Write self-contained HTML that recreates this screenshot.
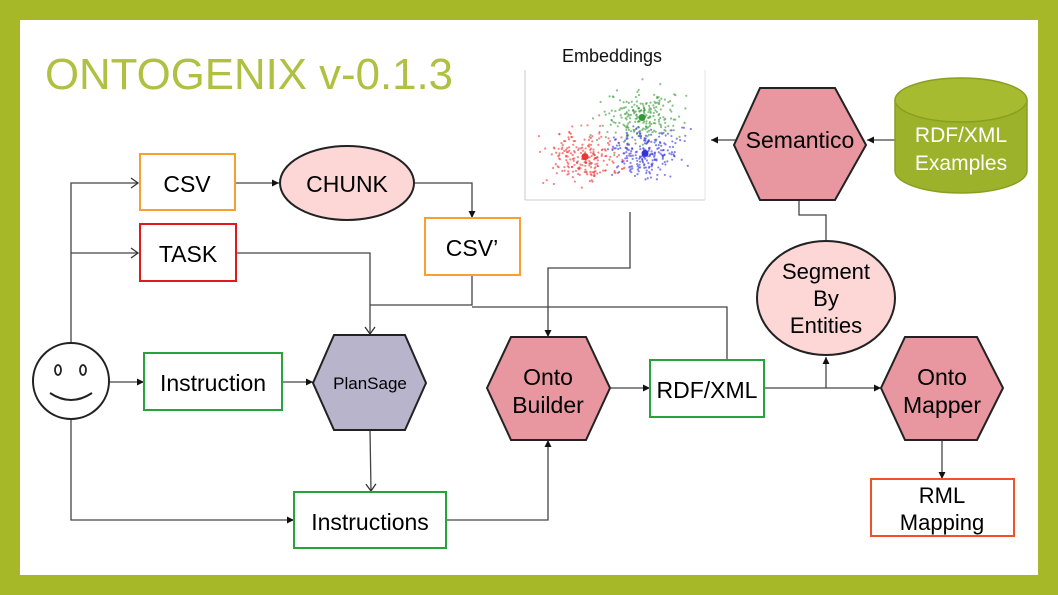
<!DOCTYPE html>
<html><head><meta charset="utf-8"><style>
html,body{margin:0;padding:0;background:#a6b828;}
svg{display:block;}
text{font-family:"Liberation Sans",sans-serif;}
</style></head><body>
<svg id="s" width="1058" height="595" viewBox="0 0 1058 595" xmlns="http://www.w3.org/2000/svg">
<defs>
<marker id="a" markerWidth="8" markerHeight="8" refX="7" refY="4" orient="auto" markerUnits="userSpaceOnUse"><path d="M0,0.5 L7,4 L0,7.5 z" fill="#111"/></marker>
<marker id="o" markerWidth="10" markerHeight="12" refX="8" refY="6" orient="auto" markerUnits="userSpaceOnUse"><path d="M1,1 L8,6 L1,11" fill="none" stroke="#333" stroke-width="1.3"/></marker>
</defs>
<rect x="0" y="0" width="1058" height="595" fill="#a6b828"/>
<rect x="20" y="20" width="1018" height="555" fill="#fff"/>
<text x="45" y="89" font-size="44" fill="#b0c040" textLength="408" lengthAdjust="spacingAndGlyphs">ONTOGENIX v-0.1.3</text>

<text x="612" y="62" font-size="18" text-anchor="middle" fill="#111">Embeddings</text>
<g id="plot">
<line x1="525" y1="70" x2="525" y2="200" stroke="#bbb" stroke-width="0.8"/>
<line x1="525" y1="200" x2="705" y2="200" stroke="#bbb" stroke-width="0.8"/>
<line x1="705" y1="70" x2="705" y2="200" stroke="#ddd" stroke-width="0.8"/>
</g>

<g fill="none" stroke="#444" stroke-width="1.3">
<polyline points="71,343 71,183 138,183" marker-end="url(#o)"/>
<polyline points="71,253 138,253" marker-end="url(#o)"/>
<polyline points="109,382 144,382" marker-end="url(#a)"/>
<polyline points="282,382 313,382" marker-end="url(#a)"/>
<polyline points="71,420 71,520 294,520" marker-end="url(#a)"/>
<polyline points="235,183 279,183" marker-end="url(#a)"/>
<polyline points="415,183 472,183 472,218" marker-end="url(#a)"/>
<polyline points="236,253 370,253 370,334" marker-end="url(#o)"/>
<polyline points="472,275 472,305 370,305"/>
<polyline points="472,307 727,307 727,360"/>
<polyline points="370,430 371,491" marker-end="url(#o)"/>
<polyline points="446,520 548,520 548,440" marker-end="url(#a)"/>
<polyline points="630,212 630,268 548,268 548,337" marker-end="url(#a)"/>
<polyline points="610,388 650,388" marker-end="url(#a)"/>
<polyline points="764,388 881,388" marker-end="url(#a)"/>
<polyline points="826,388 826,357" marker-end="url(#a)"/>
<polyline points="826,240 826,215 799,215 799,189" marker-end="url(#a)"/>
<polyline points="746,140 711,140" marker-end="url(#a)"/>
<polyline points="895,140 867,140" marker-end="url(#a)"/>
<polyline points="942,440 942,479" marker-end="url(#a)"/>
</g>

<rect x="140" y="154" width="95" height="56" fill="#fff" stroke="#f5a030" stroke-width="2"/>
<text x="187" y="192" font-size="23" text-anchor="middle">CSV</text>
<rect x="140" y="224" width="96" height="57" fill="#fff" stroke="#e0191b" stroke-width="2"/>
<text x="188" y="262" font-size="23" text-anchor="middle">TASK</text>
<rect x="425" y="218" width="95" height="57" fill="#fff" stroke="#f5a030" stroke-width="2"/>
<text x="472" y="256" font-size="23" text-anchor="middle">CSV’</text>
<rect x="144" y="353" width="138" height="57" fill="#fff" stroke="#27a33a" stroke-width="2"/>
<text x="213" y="391" font-size="23" text-anchor="middle">Instruction</text>
<rect x="294" y="492" width="152" height="56" fill="#fff" stroke="#27a33a" stroke-width="2"/>
<text x="370" y="530" font-size="23" text-anchor="middle">Instructions</text>
<rect x="650" y="360" width="114" height="57" fill="#fff" stroke="#27a33a" stroke-width="2"/>
<text x="707" y="398" font-size="23" text-anchor="middle">RDF/XML</text>
<rect x="871" y="479" width="143" height="57" fill="#fff" stroke="#f0502a" stroke-width="2"/>
<text x="942" y="503" font-size="22" text-anchor="middle">RML</text>
<text x="942" y="530" font-size="22" text-anchor="middle">Mapping</text>

<ellipse cx="347" cy="183" rx="67" ry="37" fill="#fdd6d6" stroke="#222" stroke-width="2"/>
<text x="347" y="192" font-size="23" text-anchor="middle">CHUNK</text>
<ellipse cx="826" cy="298" rx="69" ry="57" fill="#fdd6d6" stroke="#222" stroke-width="2"/>
<text x="826" y="279" font-size="22" text-anchor="middle">Segment</text>
<text x="826" y="306" font-size="22" text-anchor="middle">By</text>
<text x="826" y="333" font-size="22" text-anchor="middle">Entities</text>

<circle cx="71" cy="381" r="38" fill="#fff" stroke="#222" stroke-width="2"/>
<ellipse cx="58" cy="370" rx="3" ry="5" fill="none" stroke="#222" stroke-width="1.8"/>
<ellipse cx="83" cy="370" rx="3" ry="5" fill="none" stroke="#222" stroke-width="1.8"/>
<path d="M50,393 Q71,407 92,393" fill="none" stroke="#222" stroke-width="2"/>

<polygon points="313,383 334,335 405,335 426,383 405,430 334,430" fill="#b7b4cc" stroke="#222" stroke-width="2"/>
<text x="370" y="389" font-size="17" text-anchor="middle">PlanSage</text>
<polygon points="487,388 511,337 586,337 610,388 586,440 511,440" fill="#e8969f" stroke="#222" stroke-width="2"/>
<text x="548" y="385" font-size="23" text-anchor="middle">Onto</text>
<text x="548" y="413" font-size="23" text-anchor="middle">Builder</text>
<polygon points="734,145 760,88 835,88 866,145 835,200 760,200" fill="#e8969f" stroke="#222" stroke-width="2"/>
<text x="800" y="148" font-size="23" text-anchor="middle">Semantico</text>
<polygon points="881,388 905,337 977,337 1003,388 977,440 905,440" fill="#e8969f" stroke="#222" stroke-width="2"/>
<text x="942" y="385" font-size="23" text-anchor="middle">Onto</text>
<text x="942" y="413" font-size="23" text-anchor="middle">Mapper</text>

<path d="M895,100 L895,171 A66,22 0 0 0 1027,171 L1027,100" fill="#9cb22a" stroke="#8a9e22" stroke-width="1.5"/>
<ellipse cx="961" cy="100" rx="66" ry="22" fill="#a6bb30" stroke="#8a9e22" stroke-width="1.5"/>
<text x="961" y="142" font-size="21" text-anchor="middle" fill="#fff">RDF/XML</text>
<text x="961" y="170" font-size="21" text-anchor="middle" fill="#fff">Examples</text>
</svg>
<script>
(function(){
var s=1234567;function r(){s=(s*16807)%2147483647;return s/2147483647;}
function g(){return (r()+r()+r()+r()-2)*0.9;}
var p=document.getElementById('plot'),ns='http://www.w3.org/2000/svg';
function X(v){return 525+(v+3)*30;}function Y(v){return 200-(v+3)*21.7;}
var cl=[[-1,-1,'#e33'],[0.9,0.8,'#393'],[1,-0.85,'#33d']];
cl.forEach(function(c){for(var i=0;i<220;i++){var e=document.createElementNS(ns,'circle');e.setAttribute('cx',X(c[0]+g()*1.15));e.setAttribute('cy',Y(c[1]+g()*1.15));e.setAttribute('r',1.1);e.setAttribute('fill',c[2]);e.setAttribute('opacity',0.6);p.appendChild(e);}
var m=document.createElementNS(ns,'circle');m.setAttribute('cx',X(c[0]));m.setAttribute('cy',Y(c[1]));m.setAttribute('r',3.5);m.setAttribute('fill',c[2]);p.appendChild(m);});
})();
</script>
</body></html>
